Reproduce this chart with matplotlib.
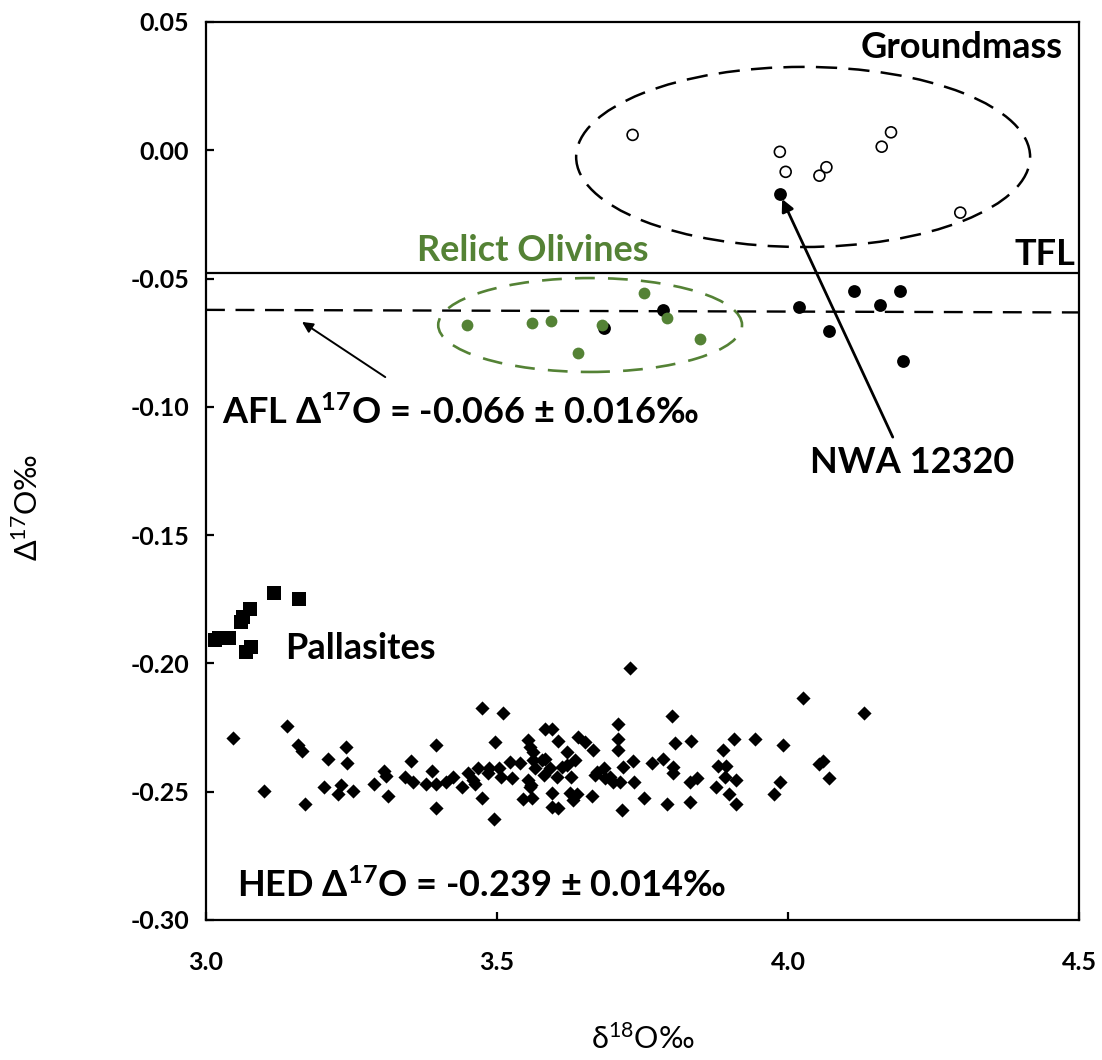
import matplotlib
matplotlib.use('Agg')
import matplotlib.pyplot as plt
from matplotlib.patches import Ellipse

plt.rcParams['font.family'] = ['Lato', 'DejaVu Sans']
plt.rcParams['axes.unicode_minus'] = False
plt.rcParams['mathtext.fontset'] = 'custom'
plt.rcParams['mathtext.rm'] = 'Lato'
plt.rcParams['mathtext.bf'] = 'Lato:bold'
plt.rcParams['mathtext.it'] = 'Lato:italic'

# ---------------- data ----------------
hed_x = [3.046, 3.100, 3.139, 3.158, 3.165, 3.170, 3.209, 3.203, 3.241, 3.243, 3.232, 3.226,
         3.252, 3.288, 3.306, 3.309, 3.312, 3.342, 3.352, 3.355, 3.378, 3.395, 3.388, 3.395,
         3.396, 3.413, 3.424, 3.440, 3.450, 3.458, 3.462, 3.467, 3.474, 3.475, 3.486, 3.484,
         3.494, 3.497, 3.504, 3.507, 3.511,
         3.729, 3.801, 3.708, 3.582, 3.594, 3.554, 3.605, 3.640, 3.651, 3.665, 3.708, 3.708,
         3.805, 3.834, 3.908, 3.944, 3.992, 3.557, 3.621, 3.889, 3.522, 3.540, 3.562, 3.577,
         3.634, 3.733, 3.766, 3.785, 3.565, 3.591, 3.611, 3.620, 3.671, 3.683, 3.717, 3.802,
         3.880, 3.893, 3.525, 3.554, 3.580, 3.603, 3.628, 3.668, 3.686, 3.700, 3.711, 3.802,
         3.832, 3.843, 3.892, 3.911, 3.986, 3.735, 3.557, 3.876, 3.594, 3.625, 3.637, 3.663,
         3.545, 3.560, 3.631, 3.753, 3.899, 3.976, 3.594, 3.605, 3.714, 3.792, 3.832, 3.911,
         4.025, 4.131, 4.054, 4.060, 4.071,
         3.562, 3.582, 3.559, 3.694]
hed_y = [-0.2292, -0.2498, -0.2244, -0.2318, -0.2342, -0.2546, -0.2373, -0.2481, -0.2325, -0.2387, -0.2474, -0.2510,
         -0.2498, -0.2470, -0.2420, -0.2439, -0.2516, -0.2442, -0.2379, -0.2461, -0.2470, -0.2318, -0.2420, -0.2470,
         -0.2565, -0.2461, -0.2442, -0.2481, -0.2429, -0.2455, -0.2470, -0.2409, -0.2175, -0.2526, -0.2409, -0.2429,
         -0.2607, -0.2305, -0.2409, -0.2442, -0.2195,
         -0.2017, -0.2204, -0.2236, -0.2257, -0.2257, -0.2299, -0.2303, -0.2286, -0.2305, -0.2338, -0.2296, -0.2338,
         -0.2312, -0.2303, -0.2296, -0.2296, -0.2318, -0.2325, -0.2345, -0.2338, -0.2383, -0.2387, -0.2376, -0.2376,
         -0.2376, -0.2379, -0.2387, -0.2371, -0.2409, -0.2409, -0.2403, -0.2396, -0.2422, -0.2409, -0.2403, -0.2403,
         -0.2400, -0.2400, -0.2448, -0.2455, -0.2435, -0.2442, -0.2442, -0.2435, -0.2448, -0.2461, -0.2461, -0.2429,
         -0.2461, -0.2448, -0.2442, -0.2455, -0.2461, -0.2461, -0.2481, -0.2481, -0.2504, -0.2504, -0.2507, -0.2517,
         -0.2530, -0.2526, -0.2533, -0.2524, -0.2510, -0.2510, -0.2559, -0.2565, -0.2572, -0.2549, -0.2539, -0.2546,
         -0.2134, -0.2195, -0.2392, -0.2379, -0.2448,
         -0.2345, -0.2371, -0.2474, -0.2442]

pall_x = [3.117, 3.160, 3.076, 3.063, 3.060, 3.023, 3.040, 3.077, 3.069, 3.015]
pall_y = [-0.1727, -0.1749, -0.1789, -0.1818, -0.1838, -0.1902, -0.1902, -0.1935, -0.1955, -0.1910]

gm_x = [3.733, 3.986, 3.996, 4.066, 4.054, 4.177, 4.161, 4.296]
gm_y = [0.0060, -0.0006, -0.0084, -0.0066, -0.0099, 0.0070, 0.0014, -0.0243]

nwa_x = [3.986, 4.019, 4.113, 4.192, 4.158, 4.070, 4.198, 3.785, 3.684]
nwa_y = [-0.0170, -0.0610, -0.0549, -0.0549, -0.0603, -0.0704, -0.0821, -0.0623, -0.0694]

rel_x = [3.448, 3.560, 3.593, 3.681, 3.639, 3.753, 3.792, 3.848]
rel_y = [-0.0681, -0.0672, -0.0666, -0.0681, -0.0789, -0.0555, -0.0653, -0.0734]

tfl_y = -0.048
afl_y = [-0.0622, -0.0632]
x_limits = [3.0, 4.5]
y_limits = [-0.30, 0.05]
x_ticks = [3.0, 3.5, 4.0, 4.5]
y_ticks = [-0.30, -0.25, -0.20, -0.15, -0.10, -0.05, 0.00, 0.05]

GREEN = '#548235'

# ---------------- figure ----------------
fig = plt.figure(figsize=(11.02, 10.60), dpi=100)
ax = fig.add_axes([0.18693, 0.13208, 0.79220, 0.84717])
ax.set_xlim(*x_limits)
ax.set_ylim(*y_limits)

# ellipses
ax.add_patch(Ellipse((4.026, -0.0026), 0.780, 0.0702, fill=False, ec='black',
                     lw=1.8, linestyle=(0, (8.5, 4.5)), zorder=2))
ax.add_patch(Ellipse((3.660, -0.0681), 0.522, 0.0366, fill=False, ec=GREEN,
                     lw=1.9, linestyle=(0, (7.5, 5)), zorder=2))

# lines
ax.plot(x_limits, [tfl_y, tfl_y], color='black', lw=1.6, zorder=2)
ax.plot(x_limits, afl_y, color='black', lw=1.7, linestyle=(0, (8, 4.5)), zorder=2)

# points
ax.scatter(hed_x, hed_y, marker='D', s=52, color='black', linewidths=0, zorder=3)
ax.scatter(pall_x, pall_y, marker='s', s=100, color='black', linewidths=0, zorder=3)
ax.scatter(gm_x, gm_y, marker='o', s=62, facecolors='none', edgecolors='black',
           linewidths=1.2, zorder=3)
ax.scatter(nwa_x, nwa_y, marker='o', s=85, color='black', linewidths=0, zorder=3)
ax.scatter(rel_x, rel_y, marker='o', s=72, color=GREEN, linewidths=0, zorder=4)

# arrows
ax.annotate('', xy=(3.165, -0.0669), xytext=(3.308, -0.0884),
            arrowprops=dict(arrowstyle='-|>', lw=1.4, color='black',
                            mutation_scale=16, shrinkA=0, shrinkB=0), zorder=5)
ax.annotate('', xy=(3.990, -0.0190), xytext=(4.180, -0.1118),
            arrowprops=dict(arrowstyle='-|>', lw=2.0, color='black',
                            mutation_scale=18, shrinkA=0, shrinkB=0), zorder=5)

# texts
tkw = dict(fontsize=26, fontweight='bold', color='black', zorder=6)
ax.text(4.299, 0.0399, 'Groundmass', ha='center', va='center', **tkw)
ax.text(4.493, -0.0408, 'TFL', ha='right', va='center', **tkw)
ax.text(3.562, -0.0389, 'Relict Olivines', ha='center', va='center',
        fontsize=26, fontweight='bold', color=GREEN, zorder=6)
ax.text(3.0275, -0.102, r'AFL Δ$^{\mathbf{17}}$O = -0.066 ± 0.016‰', ha='left', va='center', **tkw)
ax.text(4.213, -0.1215, 'NWA 12320', ha='center', va='center', **tkw)
ax.text(3.136, -0.194, 'Pallasites', ha='left', va='center', **tkw)
ax.text(3.053, -0.2864, r'HED Δ$^{\mathbf{17}}$O = -0.239 ± 0.014‰', ha='left', va='center', **tkw)

# axes styling
for sp in ax.spines.values():
    sp.set_linewidth(1.6)
    sp.set_color('black')
ax.set_xticks(x_ticks)
ax.set_yticks(y_ticks)
ax.set_xticklabels([f'{v:.1f}' for v in x_ticks], fontsize=18, fontweight='bold')
ax.set_yticklabels([f'{v:.2f}' for v in y_ticks], fontsize=18, fontweight='bold')
ax.tick_params(axis='both', direction='in', length=6, width=1.6)
ax.tick_params(axis='x', pad=22)
ax.tick_params(axis='y', pad=12)

ax.set_xlabel(r'δ$^{\mathrm{18}}$O‰', fontsize=22, va='center')
ax.xaxis.set_label_coords(0.5, -0.1325)
ax.set_ylabel(r'Δ$^{\mathrm{17}}$O‰', fontsize=22, va='center')
ax.yaxis.set_label_coords(-0.2045, 0.46)

fig.savefig('out.png', dpi=100)
